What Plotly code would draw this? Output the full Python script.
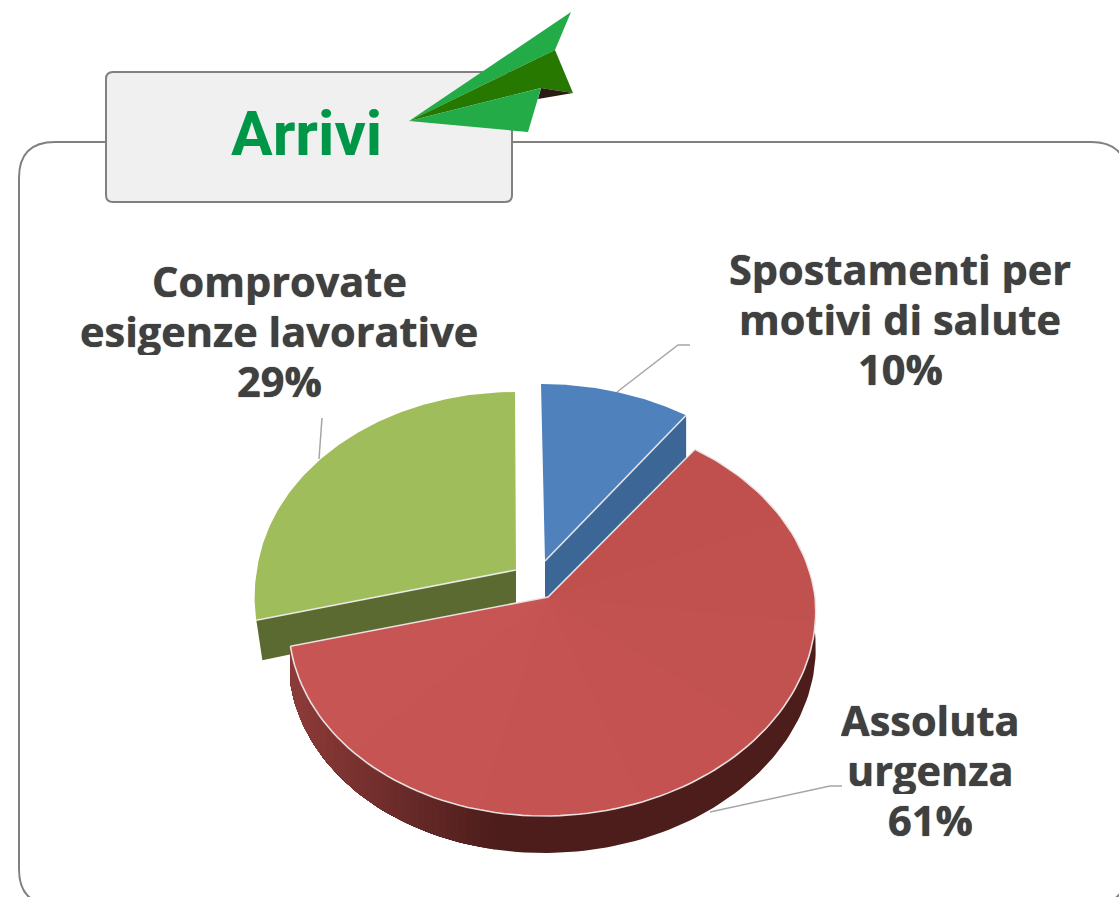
import math
import plotly.graph_objects as go

# ---- data ----
categories = [["Spostamenti per", "motivi di salute"], ["Assoluta", "urgenza"], ["Comprovate", "esigenze lavorative"]]
shares = [10, 61, 29]
top_colors = ["#4f81bd", "#c35250", "#9fbd5b"]
wall_colors = ["#3c6695", "#4c1d1b", "#5a6a30"]
title_text = "Arrivi"

# ---- projection of each exploded slice (page pixels) ----
apex = [(545, 561), (548, 597), (516, 570)]
rim_centre = [(541, 562), (553, 596), (515, 570)]
radius_x = [268, 262, 258]
radius_y, persp, depth, shear = 196.8, 0.1055, 37, -0.04
W, H = 1119, 897


def rim(i, deg):
    t = math.radians(deg)
    u, v = math.sin(t), math.cos(t)
    s = 1 + persp * v
    dy = -radius_y * v / s
    x = rim_centre[i][0] + radius_x[i] * u / s + shear * max(dy, 0)
    return x, rim_centre[i][1] + dy


def angles(i):
    total = sum(shares)
    a0 = 360 * sum(shares[:i]) / total
    a1 = a0 + 360 * shares[i] / total
    return a0, a1


def arc(i, n=120):
    a0, a1 = angles(i)
    return [rim(i, a0 + (a1 - a0) * k / n) for k in range(n + 1)]


def poly(pts, color):
    xs = [p[0] for p in pts] + [pts[0][0]]
    ys = [p[1] for p in pts] + [pts[0][1]]
    return go.Scatter(x=xs, y=ys, mode="lines", fill="toself", fillcolor=color,
                      line=dict(color=color, width=0), hoverinfo="skip", showlegend=False)


def edge(pts):
    return go.Scatter(x=[p[0] for p in pts], y=[p[1] for p in pts], mode="lines",
                      line=dict(color="rgba(240,240,240,0.9)", width=1.6),
                      hoverinfo="skip", showlegend=False)


def mix(c0, c1, f):
    return "rgb(%d,%d,%d)" % tuple(round(a + (b - a) * f) for a, b in zip(c0, c1))


fig = go.Figure()

# leader lines
leaders = [[(617, 392), (678, 345), (690, 345)],
           [(710, 812), (830, 786), (842, 786)],
           [(322, 418), (319, 459)]]
for L in leaders:
    fig.add_trace(go.Scatter(x=[p[0] for p in L], y=[p[1] for p in L], mode="lines",
                             line=dict(color="#a6a6a6", width=1.5),
                             hoverinfo="skip", showlegend=False))

# green slice
G = 2
a0, a1 = angles(G)
A = apex[G]
P = rim(G, a0)
fig.add_trace(poly([A, P, (P[0] + 6, P[1] + depth + 3), (A[0], A[1] + depth)], wall_colors[G]))
fig.add_trace(poly([A] + arc(G), top_colors[G]))
fig.add_trace(edge([A, P]))

# blue slice
B = 0
a0, a1 = angles(B)
A = apex[B]
P = rim(B, a1)
fig.add_trace(poly([A, P, (P[0], P[1] + depth + 8), (A[0], A[1] + depth + 2)], wall_colors[B]))
fig.add_trace(poly([A] + arc(B), top_colors[B]))
fig.add_trace(edge([A, P]))

# red slice: outer wall shaded along the rim, painted in overlapping bands
R = 1
a0, a1 = angles(R)
dark, light = (76, 29, 27), (139, 58, 56)
N = 150
pts = arc(R, N)
last_f = None
for k in range(N):
    f = max(0.0, min(1.0, (500 - pts[k][0]) / 200))
    if last_f is not None and abs(f - last_f) < 0.02:
        continue
    last_f = f
    seg = pts[k:]
    low = [(p[0], p[1] + depth) for p in reversed(seg)]
    fig.add_trace(poly(seg + low, mix(dark, light, f)))

# red top: very soft shading, painted in overlapping bands
A = apex[R]
shade_right, shade_left = (192, 80, 77), (198, 85, 83)
bands = 7
for b in range(bands):
    k0 = int(N * b / bands)
    fig.add_trace(poly([A] + pts[k0:], mix(shade_right, shade_left, b / (bands - 1))))
fig.add_trace(edge([rim(R, a0), A, rim(R, a1)]))
fig.add_trace(edge(arc(R)))

# plane
plane = [([(409, 121), (571, 12), (555, 50)], "#22ab46"),
         ([(409, 121), (555, 50), (573, 93), (541, 88)], "#267800"),
         ([(541, 88), (573, 93), (538, 99)], "#2a1c12"),
         ([(409, 121), (541, 88), (528, 132)], "#22ab46")]


def rounded(x0, y0, x1, y1, r):
    return (f"M{x0+r},{y0} L{x1-r},{y0} Q{x1},{y0} {x1},{y0+r} L{x1},{y1-r} Q{x1},{y1} {x1-r},{y1} "
            f"L{x0+r},{y1} Q{x0},{y1} {x0},{y1-r} L{x0},{y0+r} Q{x0},{y0} {x0+r},{y0} Z")


shapes = [
    dict(type="path", path=rounded(19, 142, 1127, 905, 36), line=dict(color="#808080", width=2),
         fillcolor="rgba(0,0,0,0)", layer="below"),
    dict(type="path", path=rounded(106, 72, 512, 202, 7), line=dict(color="#808080", width=2),
         fillcolor="#f0f0f0", layer="below"),
]
for pts_, col in plane:
    path = "M" + " L".join(f"{x},{y}" for x, y in pts_) + " Z"
    shapes.append(dict(type="path", path=path, fillcolor=col, line=dict(width=0), layer="above"))

label_xy = [(900, 318), (930, 769), (279, 330)]
annotations = []
for c, s, (x, y) in zip(categories, shares, label_xy):
    lines = c + [f"{s}%"]
    for j, line in enumerate(lines):
        annotations.append(dict(x=x, y=y + 50 * (j - 1), xref="x", yref="y", showarrow=False,
                                xanchor="center", yanchor="middle", text=f"<b>{line}</b>",
                                height=49, valign="middle",
                                font=dict(family="Open Sans", size=41.5, color="#404040",
                                          shadow="0 0 1px #404040")))
annotations.append(dict(x=306, y=133, xref="x", yref="y", showarrow=False, xanchor="center",
                        yanchor="middle", text=f"<b>{title_text}</b>",
                        font=dict(family="Roboto", size=62, color="#009648")))

fig.update_layout(
    width=W, height=H, margin=dict(l=0, r=0, t=0, b=0), autosize=False,
    paper_bgcolor="white", plot_bgcolor="white", showlegend=False,
    xaxis=dict(range=[0, W], visible=False, fixedrange=True),
    yaxis=dict(range=[H, 0], visible=False, fixedrange=True),
    shapes=shapes, annotations=annotations,
)
fig.write_html("out.html", config=dict(displayModeBar=False),
               post_script="document.body.style.margin='0';document.body.style.overflow='hidden';")
